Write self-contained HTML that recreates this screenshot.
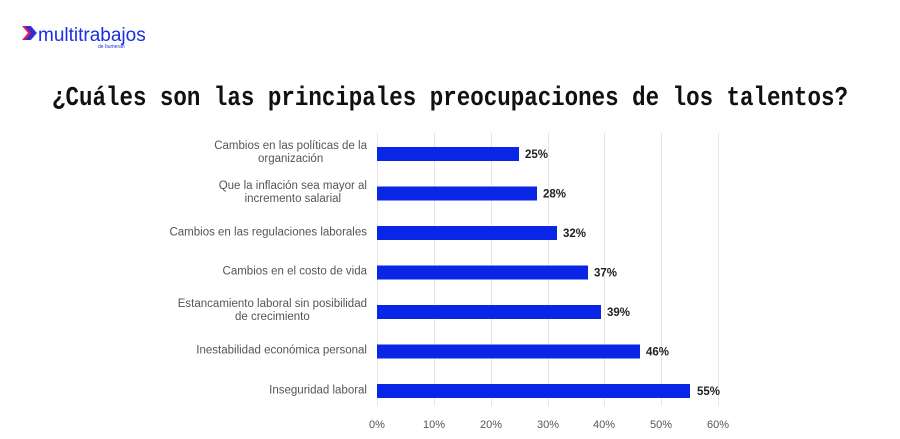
<!DOCTYPE html>
<html><head><meta charset="utf-8"><style>
body{margin:0;width:900px;height:439px;background:#fff;overflow:hidden;position:relative;font-family:"Liberation Sans",sans-serif}
.lbl{position:absolute;right:533px;text-align:center;font-size:11.5px;line-height:13px;color:#555;white-space:nowrap;transform:translateY(-50%)}
</style></head><body>
<svg width="900" height="439" style="position:absolute;left:0;top:0">
<g fill="#0926e6">
<path d="M22 26 L30 26 L36 33 L30 40 L22 40 L28 33Z" fill="#e0185a"/>
<path d="M25 26 L31 26 L37 33 L31 40 L25 40 L31 33Z" fill="#1530e8" opacity=".85"/>
</g>
<text x="38" y="41" font-family="Liberation Sans" font-size="19" fill="#1a2fe0">multitrabajos</text>
<text x="98" y="48" font-family="Liberation Sans" font-size="5" fill="#1a2fe0">de bumeran</text>
<text x="450" y="105" text-anchor="middle" font-family="Liberation Mono" font-weight="bold" font-size="27" fill="#111" textLength="796" lengthAdjust="spacingAndGlyphs">¿Cuáles son las principales preocupaciones de los talentos?</text>
<g stroke="#e6e6e6" stroke-width="1">
<line x1="377.5" y1="133" x2="377.5" y2="406"/><line x1="434.5" y1="133" x2="434.5" y2="406"/><line x1="491.5" y1="133" x2="491.5" y2="406"/><line x1="548.5" y1="133" x2="548.5" y2="406"/><line x1="604.5" y1="133" x2="604.5" y2="406"/><line x1="661.5" y1="133" x2="661.5" y2="406"/><line x1="718.5" y1="133" x2="718.5" y2="406"/>
</g>
<g fill="#0926e6">
<rect x="377" y="147" width="142" height="14"/>
<rect x="377" y="186.5" width="160" height="14"/>
<rect x="377" y="226" width="180" height="14"/>
<rect x="377" y="265.5" width="211" height="14"/>
<rect x="377" y="305" width="224" height="14"/>
<rect x="377" y="344.5" width="263" height="14"/>
<rect x="377" y="384" width="313" height="14"/>
</g>
<g font-family="Liberation Sans" font-weight="bold" font-size="11.5" fill="#222">
<text x="525" y="158">25%</text><text x="543" y="197.5">28%</text><text x="563" y="237">32%</text><text x="594" y="276.5">37%</text><text x="607" y="316">39%</text><text x="646" y="355.5">46%</text><text x="697" y="395">55%</text>
</g>
<g font-family="Liberation Sans" font-size="11" fill="#555" text-anchor="middle">
<text x="377" y="428">0%</text><text x="434" y="428">10%</text><text x="491" y="428">20%</text><text x="548" y="428">30%</text><text x="604" y="428">40%</text><text x="661" y="428">50%</text><text x="718" y="428">60%</text>
</g>
</svg>
<div class="lbl" style="top:153px">Cambios en las políticas de la<br>organización</div>
<div class="lbl" style="top:193px">Que la inflación sea mayor al<br>incremento salarial</div>
<div class="lbl" style="top:233px">Cambios en las regulaciones laborales</div>
<div class="lbl" style="top:272px">Cambios en el costo de vida</div>
<div class="lbl" style="top:311px">Estancamiento laboral sin posibilidad<br>de crecimiento</div>
<div class="lbl" style="top:351px">Inestabilidad económica personal</div>
<div class="lbl" style="top:391px">Inseguridad laboral</div>
</body></html>
